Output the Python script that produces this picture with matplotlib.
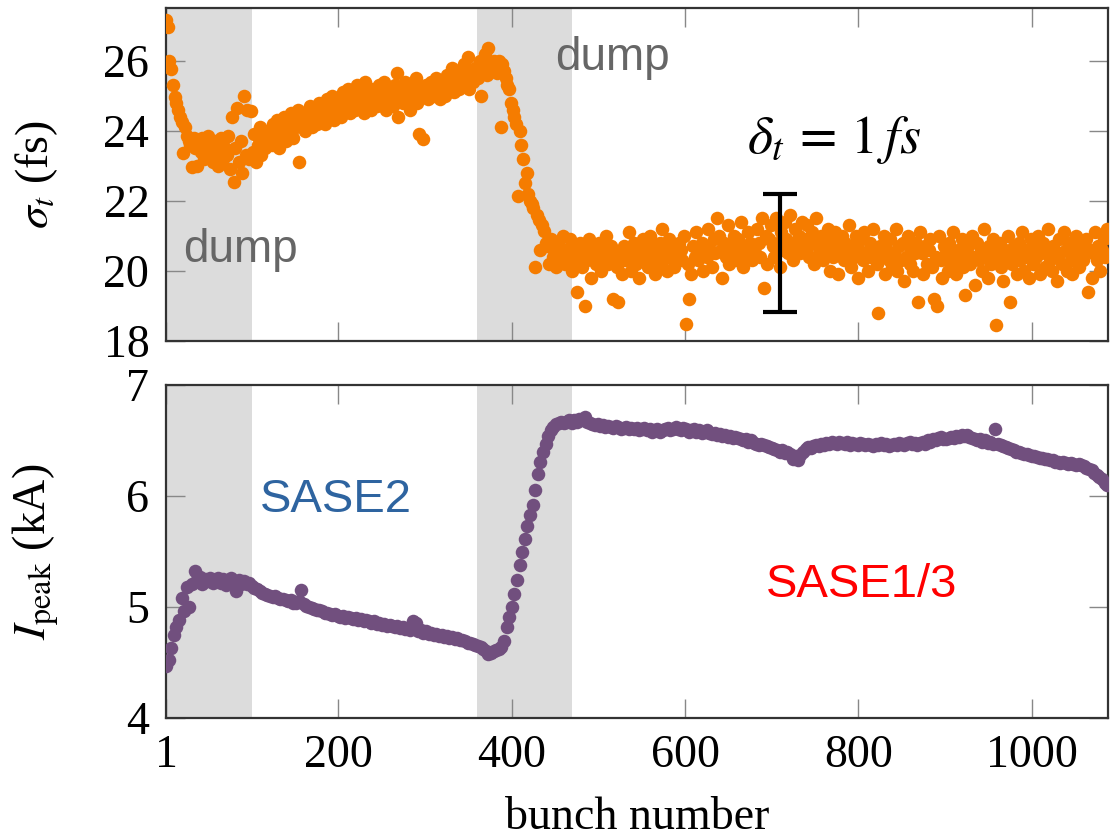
import numpy as np
import matplotlib
matplotlib.use("Agg")
import matplotlib.pyplot as plt

plt.rcParams['font.family'] = ['Liberation Serif', 'DejaVu Serif']
plt.rcParams['mathtext.fontset'] = 'stix'

# sigma_t (fs), one value every 2nd bunch starting at bunch 1
sigma_t = [
    27.15, 26.95, 26.0, 25.75, 25.3, 24.95, 24.8, 24.6, 24.4, 24.25,
    23.35, 24.1, 23.85, 23.7, 23.6, 22.95, 23.8, 23.5, 23.0, 23.7,
    23.4, 23.8, 23.2, 23.6, 23.85, 23.3, 23.5, 23.1, 23.7, 23.4,
    23.0, 23.6, 23.8, 23.2, 23.5, 23.3, 23.85, 22.9, 24.4, 22.55,
    23.5, 24.65, 23.1, 23.7, 22.8, 25.0, 23.3, 24.6, 23.2, 24.55,
    23.4, 23.9, 23.1, 23.6, 24.1, 23.3, 23.8, 23.5, 24.0, 23.7,
    24.0, 23.6, 24.2, 23.8, 24.3, 23.5, 24.1, 23.9, 24.4, 23.7,
    24.2, 24.0, 24.5, 23.8, 24.3, 24.1, 24.6, 23.1, 24.2, 24.4,
    24.0, 24.5, 24.3, 24.7, 24.1, 24.4, 24.6, 24.2, 24.8, 24.3,
    24.5, 24.7, 24.2, 24.9, 24.4, 24.6, 25.0, 24.3, 24.7, 24.5,
    24.8, 24.4, 25.1, 24.6, 24.9, 25.2, 24.5, 24.8, 25.0, 24.6,
    25.3, 24.7, 24.9, 25.1, 24.5, 25.4, 24.8, 25.0, 24.6, 25.2,
    24.9, 25.1, 24.7, 25.3, 24.8, 25.0, 25.4, 24.6, 25.2, 24.9,
    25.1, 24.7, 25.3, 25.65, 24.4, 25.0, 25.2, 24.8, 25.4, 24.9,
    25.1, 24.6, 25.3, 25.0, 25.5, 24.8, 23.9, 25.2, 23.75, 25.0,
    25.3, 24.9, 25.1, 25.4, 25.0, 25.2, 25.5, 25.1, 24.9, 25.3,
    25.4, 25.0, 25.6, 25.2, 25.3, 25.8, 25.1, 25.5, 25.7, 25.2,
    25.6, 25.3, 25.9, 25.5, 26.1, 25.2, 25.7, 25.4, 25.8, 25.6,
    25.5, 26.0, 25.0, 25.8, 26.2, 25.6, 26.35, 25.9, 25.7, 26.0,
    25.8, 25.65, 26.0, 24.1, 25.9, 25.7, 25.5, 25.3, 25.2, 24.8,
    24.6, 24.4, 24.2, 22.15, 24.0, 23.6, 23.2, 22.5, 22.8, 22.2,
    22.0, 21.9, 21.8, 20.1, 21.6, 21.45, 20.6, 21.3, 21.15, 20.8,
    20.7, 20.2, 20.9, 20.4, 20.6, 20.1, 20.8, 20.3, 20.5, 21.0,
    20.2, 20.6, 20.4, 20.9, 20.0, 20.7, 20.3, 19.4, 20.5, 20.8,
    20.1, 20.6, 19.0, 20.3, 20.9, 19.8, 20.4, 20.7, 20.2, 20.5,
    20.8, 20.0, 20.6, 20.3, 21.0, 20.2, 20.5, 20.7, 19.2, 20.4,
    20.1, 19.1, 20.5, 19.9, 20.7, 20.3, 20.6, 21.1, 20.0, 20.4,
    20.8, 20.2, 20.5, 19.8, 20.7, 20.9, 20.3, 20.6, 20.1, 21.0,
    20.4, 20.7, 19.9, 20.5, 20.2, 20.8, 21.2, 20.3, 20.6, 20.0,
    20.9, 20.4, 20.7, 20.1, 20.5, 20.3, 20.8, 20.6, 20.3, 21.0,
    18.5, 20.2, 19.2, 19.9, 20.7, 20.4, 21.1, 20.3, 20.5, 20.8,
    20.0, 20.7, 20.4, 21.2, 20.6, 20.1, 20.9, 20.5, 21.5, 21.0,
    20.6, 19.8, 20.8, 20.4, 21.3, 20.2, 20.7, 20.5, 21.0, 20.3,
    20.9, 20.6, 21.4, 20.1, 20.7, 20.4, 21.1, 20.8, 20.3, 20.6,
    20.5, 21.2, 20.8, 20.4, 21.5, 19.5, 21.0, 20.2, 20.9, 21.3,
    20.7, 20.4, 21.5, 20.8, 20.1, 21.1, 20.6, 21.4, 20.9, 20.5,
    21.6, 20.8, 20.3, 21.2, 20.7, 21.0, 20.5, 21.4, 20.9, 20.6,
    21.3, 20.4, 20.8, 21.1, 20.2, 21.5, 20.7, 20.5, 21.0, 20.3,
    20.9, 20.6, 21.2, 20.0, 20.8, 20.4, 21.1, 20.7, 19.9, 20.5,
    21.0, 20.3, 20.8, 20.6, 21.3, 20.1, 20.7, 20.4, 21.0, 19.8,
    20.6, 20.9, 20.3, 21.1, 20.5, 20.0, 20.8, 20.4, 21.2, 20.6,
    20.2, 18.8, 20.7, 20.4, 21.0, 19.9, 20.6, 20.3, 20.9, 20.1,
    20.5, 21.2, 20.0, 20.7, 20.3, 20.8, 19.7, 20.4, 21.0, 20.2,
    20.6, 20.0, 20.5, 20.8, 19.1, 21.1, 20.5, 19.9, 20.7, 20.2,
    20.6, 20.9, 20.1, 19.2, 20.4, 19.0, 21.0, 20.3, 19.8, 20.7,
    20.5, 20.0, 20.8, 20.2, 21.1, 20.4, 19.9, 20.6, 20.3, 20.9,
    20.1, 19.3, 20.5, 20.7, 20.2, 21.0, 20.4, 19.6, 20.8, 20.3,
    20.6, 20.0, 21.2, 20.4, 19.8, 20.7, 20.2, 20.9, 20.5, 18.45,
    20.3, 20.8, 20.1, 19.7, 20.6, 20.4, 21.0, 19.1, 20.2, 20.7,
    20.5, 19.9, 20.8, 20.3, 21.1, 20.0, 20.6, 20.4, 19.8, 20.9,
    20.2, 20.7, 20.4, 21.0, 19.9, 20.5, 20.8, 20.1, 20.6, 21.2,
    20.3, 20.0, 20.7, 20.4, 19.7, 20.9, 20.5, 20.2, 21.1, 20.6,
    20.0, 20.8, 20.3, 19.9, 20.6, 21.0, 20.4, 20.1, 20.7, 20.3,
    20.6, 20.9, 19.4, 20.6, 19.8, 20.5, 21.1, 20.3, 20.7, 20.0,
    20.6, 20.9, 20.4, 21.2,
]

# I_peak (kA), one value every 3rd bunch starting at bunch 1
i_peak = [
    4.47, 4.52, 4.63, 4.75, 4.82, 4.88, 5.08, 4.96, 5.18, 5.00,
    5.21, 5.32, 5.24, 5.27, 5.21, 5.25, 5.23, 5.26, 5.22, 5.24,
    5.26, 5.22, 5.25, 5.20, 5.24, 5.26, 5.22, 5.14, 5.24, 5.21,
    5.23, 5.21, 5.22, 5.19, 5.17, 5.16, 5.14, 5.13, 5.12, 5.11,
    5.10, 5.09, 5.10, 5.08, 5.07, 5.07, 5.06, 5.05, 5.06, 5.04,
    5.04, 5.05, 5.15, 5.03, 5.01, 5.00, 4.99, 4.98, 4.97, 4.97,
    4.96, 4.95, 4.95, 4.94, 4.93, 4.94, 4.92, 4.91, 4.92, 4.90,
    4.91, 4.90, 4.89, 4.90, 4.88, 4.89, 4.87, 4.88, 4.87, 4.86,
    4.87, 4.85, 4.86, 4.84, 4.85, 4.83, 4.84, 4.83, 4.82, 4.83,
    4.81, 4.82, 4.80, 4.81, 4.79, 4.87, 4.86, 4.78, 4.79, 4.77,
    4.78, 4.76, 4.77, 4.75, 4.76, 4.74, 4.75, 4.73, 4.74, 4.72,
    4.73, 4.71, 4.72, 4.70, 4.70, 4.69, 4.68, 4.68, 4.67, 4.66,
    4.65, 4.64, 4.62, 4.60, 4.58, 4.59, 4.60, 4.61, 4.62, 4.64,
    4.69, 4.82, 4.91, 5.00, 5.12, 5.24, 5.38, 5.50, 5.61, 5.73,
    5.83, 5.92, 6.05, 6.20, 6.31, 6.40, 6.47, 6.54, 6.59, 6.62,
    6.65, 6.66, 6.67, 6.66, 6.67, 6.68, 6.66, 6.68, 6.67, 6.69,
    6.68, 6.71, 6.67, 6.66, 6.65, 6.64, 6.65, 6.63, 6.64, 6.62,
    6.63, 6.62, 6.61, 6.63, 6.62, 6.60, 6.61, 6.62, 6.60, 6.61,
    6.60, 6.61, 6.59, 6.60, 6.61, 6.59, 6.60, 6.58, 6.59, 6.60,
    6.58, 6.59, 6.60, 6.61, 6.59, 6.60, 6.62, 6.60, 6.59, 6.61,
    6.60, 6.58, 6.59, 6.60, 6.58, 6.59, 6.57, 6.58, 6.59, 6.57,
    6.56, 6.57, 6.55, 6.56, 6.54, 6.55, 6.53, 6.54, 6.52, 6.53,
    6.52, 6.51, 6.50, 6.51, 6.49, 6.50, 6.48, 6.47, 6.46, 6.47,
    6.46, 6.45, 6.44, 6.43, 6.42, 6.41, 6.40, 6.41, 6.39, 6.40,
    6.38, 6.33, 6.36, 6.32, 6.37, 6.40, 6.42, 6.44, 6.43, 6.45,
    6.46, 6.45, 6.47, 6.46, 6.48, 6.47, 6.49, 6.48, 6.47, 6.49,
    6.48, 6.47, 6.49, 6.46, 6.48, 6.47, 6.46, 6.48, 6.47, 6.46,
    6.47, 6.46, 6.45, 6.47, 6.46, 6.48, 6.46, 6.47, 6.45, 6.46,
    6.47, 6.46, 6.48, 6.47, 6.46, 6.48, 6.49, 6.47, 6.48, 6.46,
    6.48, 6.49, 6.47, 6.50, 6.49, 6.51, 6.50, 6.52, 6.53, 6.51,
    6.51, 6.52, 6.53, 6.52, 6.54, 6.53, 6.55, 6.54, 6.55, 6.53,
    6.52, 6.51, 6.50, 6.51, 6.49, 6.50, 6.48, 6.49, 6.47, 6.60,
    6.47, 6.46, 6.45, 6.44, 6.43, 6.42, 6.41, 6.40, 6.40, 6.39,
    6.38, 6.38, 6.37, 6.36, 6.36, 6.35, 6.34, 6.34, 6.33, 6.33,
    6.32, 6.32, 6.31, 6.31, 6.30, 6.31, 6.30, 6.29, 6.30, 6.29,
    6.28, 6.29, 6.28, 6.27, 6.25, 6.24, 6.23, 6.21, 6.19, 6.17,
    6.15, 6.12, 6.10,
]

sigma_bunch = np.arange(len(sigma_t)) * 2 + 1
ipeak_bunch = np.arange(len(i_peak)) * 3 + 1

dump_ranges = [(1, 100), (360, 470)]
x_ticks = [1, 200, 400, 600, 800, 1000]

orange = '#f57c00'
purple = '#714f7e'

fig = plt.figure(figsize=(11.2, 8.4), dpi=100)
ax1 = fig.add_axes([0.1482, 0.594, 0.8411, 0.3965])
ax2 = fig.add_axes([0.1482, 0.1452, 0.8411, 0.3965])

for ax in (ax1, ax2):
    for lo, hi in dump_ranges:
        ax.axvspan(lo, hi, color='#dcdcdc', lw=0, zorder=0)
    ax.set_xlim(1, 1088)
    ax.set_xticks(x_ticks)
    ax.tick_params(direction='in', length=14, width=1, color='#888888',
                   top=True, right=True, labelsize=33, pad=12)
    for sp in ax.spines.values():
        sp.set_color('#333333')
        sp.set_linewidth(1.6)

ax1.scatter(sigma_bunch, sigma_t, s=95, color=orange, lw=0, zorder=3)
ax1.set_ylim(18, 27.5)
ax1.set_yticks([18, 20, 22, 24, 26])
ax1.tick_params(labelbottom=False)
ax1.set_ylabel(r'$\sigma_t$ (fs)', fontsize=33)
ax1.yaxis.set_label_coords(-0.112, 0.5)

ax1.errorbar([709], [20.52], yerr=[[1.68], [1.68]], fmt='none', ecolor='black',
             elinewidth=3, capsize=12, capthick=3, zorder=4)
ax1.text(672, 23.36, r'$\delta_t\,{=}\,1\,fs$', fontsize=39, va='baseline', ha='left')
ax1.text(20.5, 20.26, 'dump', fontsize=33, color='#666666', family='Liberation Sans',
         va='baseline', ha='left')
ax1.text(450, 25.72, 'dump', fontsize=33, color='#666666', family='Liberation Sans',
         va='baseline', ha='left')

ax2.scatter(ipeak_bunch, i_peak, s=95, color=purple, lw=0, zorder=3)
ax2.set_ylim(4, 7)
ax2.set_yticks([4, 5, 6, 7])
ax2.set_ylabel(r'$I_{\rm peak}$ (kA)', fontsize=33)
ax2.yaxis.set_label_coords(-0.112, 0.5)
ax2.set_xlabel('bunch number', fontsize=33, labelpad=14)
ax2.text(109.5, 5.86, 'SASE2', fontsize=34, color='#2e64a0', family='Liberation Sans',
         va='baseline', ha='left')
ax2.text(693, 5.09, 'SASE1/3', fontsize=34, color='#ff0000', family='Liberation Sans',
         va='baseline', ha='left')

fig.savefig('out.png', dpi=100)
